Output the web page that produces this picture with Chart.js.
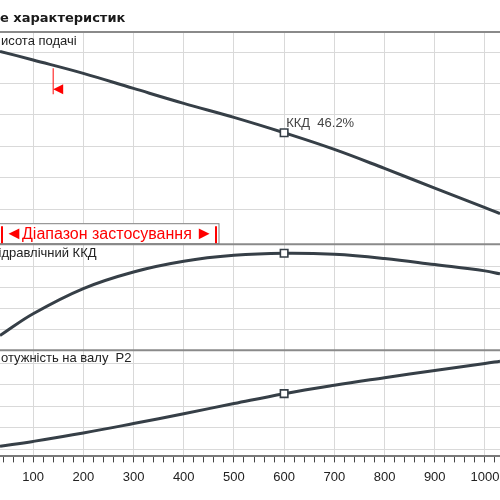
<!DOCTYPE html>
<html><head><meta charset="utf-8">
<script src="https://cdn.jsdelivr.net/npm/chart.js@4.4.0/dist/chart.umd.min.js"></script>
<style>html,body{margin:0;padding:0;background:#fff;overflow:hidden}#wrap{position:relative;width:500px;height:500px}</style>
</head><body><div id="wrap"><canvas id="c" width="500" height="500"></canvas></div>
<script>
// ---- data ----
const flow       = [34, 100, 200, 300, 400, 500, 600, 700, 800, 900, 1000, 1030];
const head       = [12.05, 11.5, 10.65, 9.69, 8.74, 7.85, 6.87, 5.81, 4.60, 3.35, 2.11, 1.72];
const efficiency = [7.0, 17.4, 29.4, 37.3, 42.4, 45.2, 46.2, 45.7, 43.7, 40.8, 37.8, 36.4];
const power      = [11.4, 13.7, 17.6, 22.0, 26.6, 31.3, 35.9, 39.8, 43.3, 46.7, 49.9, 51.0];
const dutyFlow = 600;
const dutyEff = 46.2;
const rangeMin = 140;
const headTicks = [2, 4, 6, 8, 10, 12];
const effTicks = [10, 20, 30, 40];
const powerTicks = [10, 20, 30, 40, 50];
const titleText = 'е характеристик';
const headLabel = 'исота подачі';
const effLabel = 'ідравлічний ККД';
const powerLabel = 'отужність на валу  P2';
const dutyLabel = 'ККД  ' + dutyEff.toFixed(1) + '%';
const rangeText = 'Діапазон застосування';

const lineColor = '#363f47';
const gridColor = '#d9d9d9';
const sans = '"Liberation Sans", Arial, sans-serif';

function ds(values, axis) {
  return {
    data: flow.map((x, i) => ({x: x, y: values[i]})),
    yAxisID: axis,
    borderColor: lineColor,
    borderWidth: 3,
    tension: 0.4,
    pointStyle: 'rect',
    pointRadius: c => (c.raw && c.raw.x === dutyFlow) ? 5.3 : 0,
    pointHoverRadius: 0,
    pointBackgroundColor: '#fff',
    pointBorderColor: lineColor,
    pointBorderWidth: 1.6,
    fill: false
  };
}
function yScale(weight, min, max, ticks) {
  return {
    type: 'linear', position: 'left', stack: 'panels', stackWeight: weight,
    min: min, max: max,
    afterBuildTicks: s => { s.ticks = ticks.map(v => ({value: v})); },
    ticks: {display: false},
    grid: {color: gridColor, drawTicks: false, lineWidth: 1},
    border: {display: false}
  };
}

const deco = {
  id: 'deco',
  afterDraw(chart) {
    const ctx = chart.ctx;
    const x = chart.scales.x, yH = chart.scales.yH, yE = chart.scales.yE, yP = chart.scales.yP;
    const W = chart.width;
    ctx.save();
    // panel borders
    ctx.strokeStyle = '#8a8a8a';
    ctx.lineWidth = 2;
    [yH.top, yE.top, yP.top].forEach(t => {
      ctx.beginPath(); ctx.moveTo(0, t); ctx.lineTo(W, t); ctx.stroke();
    });
    // title
    ctx.fillStyle = '#1a1a1a';
    ctx.font = 'bold 13px "DejaVu Sans", sans-serif';
    ctx.textBaseline = 'middle';
    ctx.textAlign = 'left';
    ctx.fillText(titleText, 0, 19);
    // panel labels
    ctx.font = '13px ' + sans;
    ctx.fillStyle = '#222';
    ctx.fillText(headLabel, 1, yH.top + 9);
    ctx.fillText(effLabel, -1.5, yE.top + 9);
    ctx.fillText(powerLabel, 1, yP.top + 8);
    // duty label
    const dx = x.getPixelForValue(dutyFlow);
    const dy = yH.getPixelForValue(head[flow.indexOf(dutyFlow)]);
    ctx.fillStyle = '#444';
    ctx.fillText(dutyLabel, dx + 2, dy - 9);
    // range min marker
    let i = 0; while (flow[i + 1] < rangeMin) i++;
    const t = (rangeMin - flow[i]) / (flow[i + 1] - flow[i]);
    const hv = head[i] + t * (head[i + 1] - head[i]);
    const rx = x.getPixelForValue(rangeMin);
    const ry = yH.getPixelForValue(hv) + 3;
    ctx.strokeStyle = '#ff3030';
    ctx.lineWidth = 1.2;
    ctx.beginPath(); ctx.moveTo(rx, ry); ctx.lineTo(rx, ry + 26); ctx.stroke();
    ctx.fillStyle = '#ff0000';
    ctx.beginPath(); ctx.moveTo(rx, ry + 21); ctx.lineTo(rx + 10, ry + 16); ctx.lineTo(rx + 10, ry + 26); ctx.closePath(); ctx.fill();
    // range box
    const bt = yH.bottom - 21, bb = yH.bottom - 1;
    const cy = (bt + bb) / 2 + 1;
    ctx.fillStyle = '#fff';
    ctx.fillRect(-1, bt, 220, bb - bt);
    ctx.strokeStyle = '#808080';
    ctx.lineWidth = 1;
    ctx.strokeRect(-0.5, bt + 0.5, 219.5, bb - bt);
    ctx.strokeStyle = '#ff0000';
    ctx.lineWidth = 2;
    ctx.beginPath(); ctx.moveTo(2, bt + 3); ctx.lineTo(2, bb); ctx.moveTo(216, bt + 3); ctx.lineTo(216, bb); ctx.stroke();
    ctx.fillStyle = '#ff0000';
    ctx.font = '16px ' + sans;
    ctx.textAlign = 'left';
    ctx.fillText(rangeText, 22, cy);
    ctx.font = '18px ' + sans;
    ctx.fillText('◄', 5, cy);
    ctx.textAlign = 'right';
    ctx.fillText('►', 213, cy);
    ctx.restore();
  }
};

new Chart(document.getElementById('c'), {
  type: 'line',
  data: {datasets: [ds(head, 'yH'), ds(efficiency, 'yE'), ds(power, 'yP')]},
  options: {
    responsive: false, animation: false, devicePixelRatio: 1,
    layout: {padding: {top: 32, bottom: 8, left: 0, right: 0}},
    plugins: {legend: {display: false}, tooltip: {enabled: false}, title: {display: false}},
    events: [],
    scales: {
      x: {
        type: 'linear', min: 34, max: 1030,
        afterBuildTicks: s => { const t = []; for (let v = 40; v <= 1020; v += 20) t.push({value: v}); s.ticks = t; },
        afterFit: s => { s.paddingLeft = 0; s.paddingRight = 0; },
        ticks: {autoSkip: false, maxRotation: 0, padding: 7, color: '#222', font: {family: sans, size: 13},
                callback: v => (v % 100 === 0) ? String(v) : ''},
        grid: {color: c => (c.tick && c.tick.value % 100 === 0) ? gridColor : 'rgba(0,0,0,0)',
               tickColor: '#444', tickLength: 6, lineWidth: 1},
        border: {display: true, color: '#7a7a7a', width: 2}
      },
      yP: yScale(1, 6.74, 56.05, powerTicks),
      yE: yScale(1, 0, 50.5, effTicks),
      yH: yScale(2, -0.22, 13.28, headTicks)
    }
  },
  plugins: [deco]
});
</script></body></html>
